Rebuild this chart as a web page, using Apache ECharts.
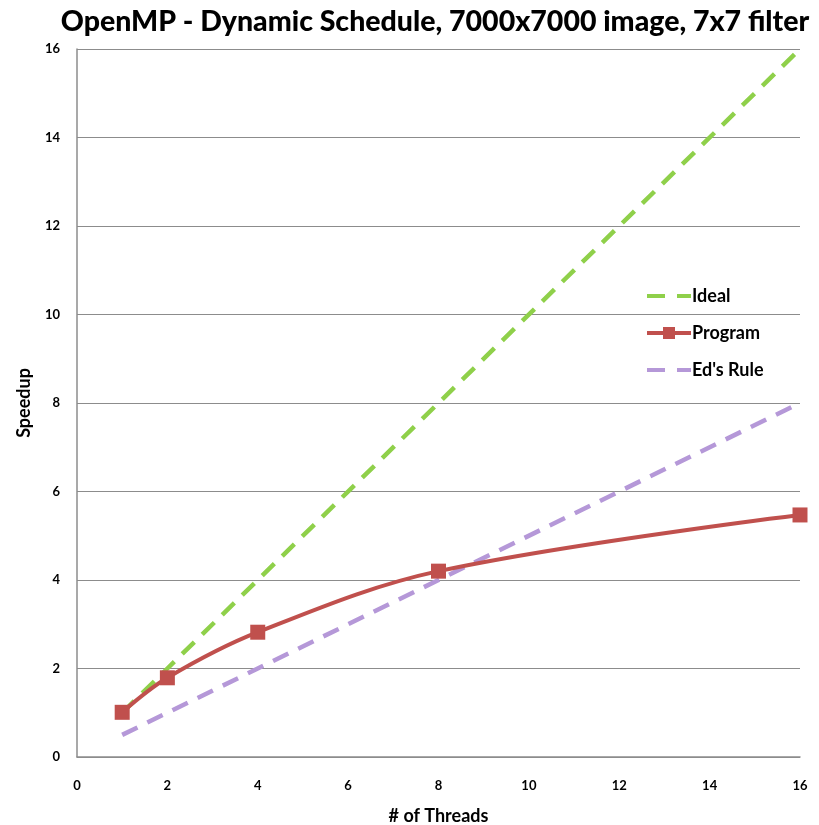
<!DOCTYPE html>
<html><head><meta charset="utf-8">
<script src="https://cdn.jsdelivr.net/npm/echarts@6/dist/echarts.min.js"></script>
<style>html,body{margin:0;padding:0;background:#fff}#c{width:819px;height:825px}</style>
</head><body><div id="c"></div>
<script>
const threads = [1, 2, 4, 8, 16];
const idealSpeedup = [1, 2, 4, 8, 16];
const programSpeedup = [1.01, 1.79, 2.82, 4.2, 5.47];
const edsRule = [0.5, 1, 2, 4, 8];
const xTicks = [0, 2, 4, 6, 8, 10, 12, 14, 16];
const yTicks = [0, 2, 4, 6, 8, 10, 12, 14, 16];

const pair = (xs, ys) => xs.map((x, i) => [x, ys[i]]);
const font = 'Lato';
const green = '#8fd04a', purple = '#b598d8', red = '#c0504d';
const chart = echarts.init(document.getElementById('c'));
chart.setOption({
  animation: false,
  backgroundColor: '#fff',
  title: {
    text: 'OpenMP - Dynamic Schedule, 7000x7000 image, 7x7 filter',
    left: 430, top: 2, textAlign: 'center',
    textStyle: {fontFamily: font, fontWeight: 900, fontSize: 28.5, color: '#000'}
  },
  grid: {left: 77, right: 19, top: 49, bottom: 68, outerBoundsMode: 'none', containLabel: false},
  legend: {
    orient: 'vertical', left: 640, top: 282, itemGap: 19,
    itemWidth: 44, itemHeight: 15,
    textStyle: {fontFamily: font, fontWeight: 'bold', fontSize: 18, color: '#000', padding: [0,0,0,-4]},
    data: [
      {name: 'Ideal', itemStyle: {opacity: 0}, lineStyle: {color: green, width: 4, type: [18, 12]}},
      {name: 'Program', itemStyle: {color: red}, lineStyle: {color: red, width: 4}},
      {name: "Ed's Rule", itemStyle: {opacity: 0}, lineStyle: {color: purple, width: 4, type: [18, 12]}}
    ]
  },
  xAxis: {
    type: 'value', min: xTicks[0], max: xTicks[xTicks.length-1], interval: 2,
    name: '# of Threads', nameLocation: 'middle', nameGap: 50,
    nameTextStyle: {fontFamily: font, fontWeight: 'bold', fontSize: 18, color: '#000'},
    axisLine: {lineStyle: {color: '#8c8c8c', width: 1.5}},
    axisTick: {show: false},
    splitLine: {show: false},
    axisLabel: {margin: 22, fontFamily: font, fontWeight: 'bold', fontSize: 13, color: '#000'}
  },
  yAxis: {
    type: 'value', min: yTicks[0], max: yTicks[yTicks.length-1], interval: 2,
    name: 'Speedup', nameLocation: 'middle', nameGap: 44,
    nameTextStyle: {fontFamily: font, fontWeight: 'bold', fontSize: 18, color: '#000'},
    axisLine: {show: true, lineStyle: {color: '#8c8c8c', width: 1.5}},
    axisTick: {show: false},
    splitLine: {lineStyle: {color: '#8c8c8c', width: 1.2}},
    axisLabel: {margin: 17, fontFamily: font, fontWeight: 'bold', fontSize: 13, color: '#000'}
  },
  series: [
    {name: 'Ideal', type: 'line', data: pair(threads, idealSpeedup), showSymbol: false, symbol: 'none',
     itemStyle: {color: green},
     lineStyle: {color: green, width: 4.5, type: [17, 11]}},
    {name: "Ed's Rule", type: 'line', data: pair(threads, edsRule), showSymbol: false, symbol: 'none',
     itemStyle: {color: purple},
     lineStyle: {color: purple, width: 4.5, type: [17, 11]}},
    {name: 'Program', type: 'line', data: pair(threads, programSpeedup), smooth: 0.35,
     symbol: 'rect', symbolSize: 15, z: 5,
     itemStyle: {color: red},
     lineStyle: {color: red, width: 4}}
  ]
});
</script></body></html>
